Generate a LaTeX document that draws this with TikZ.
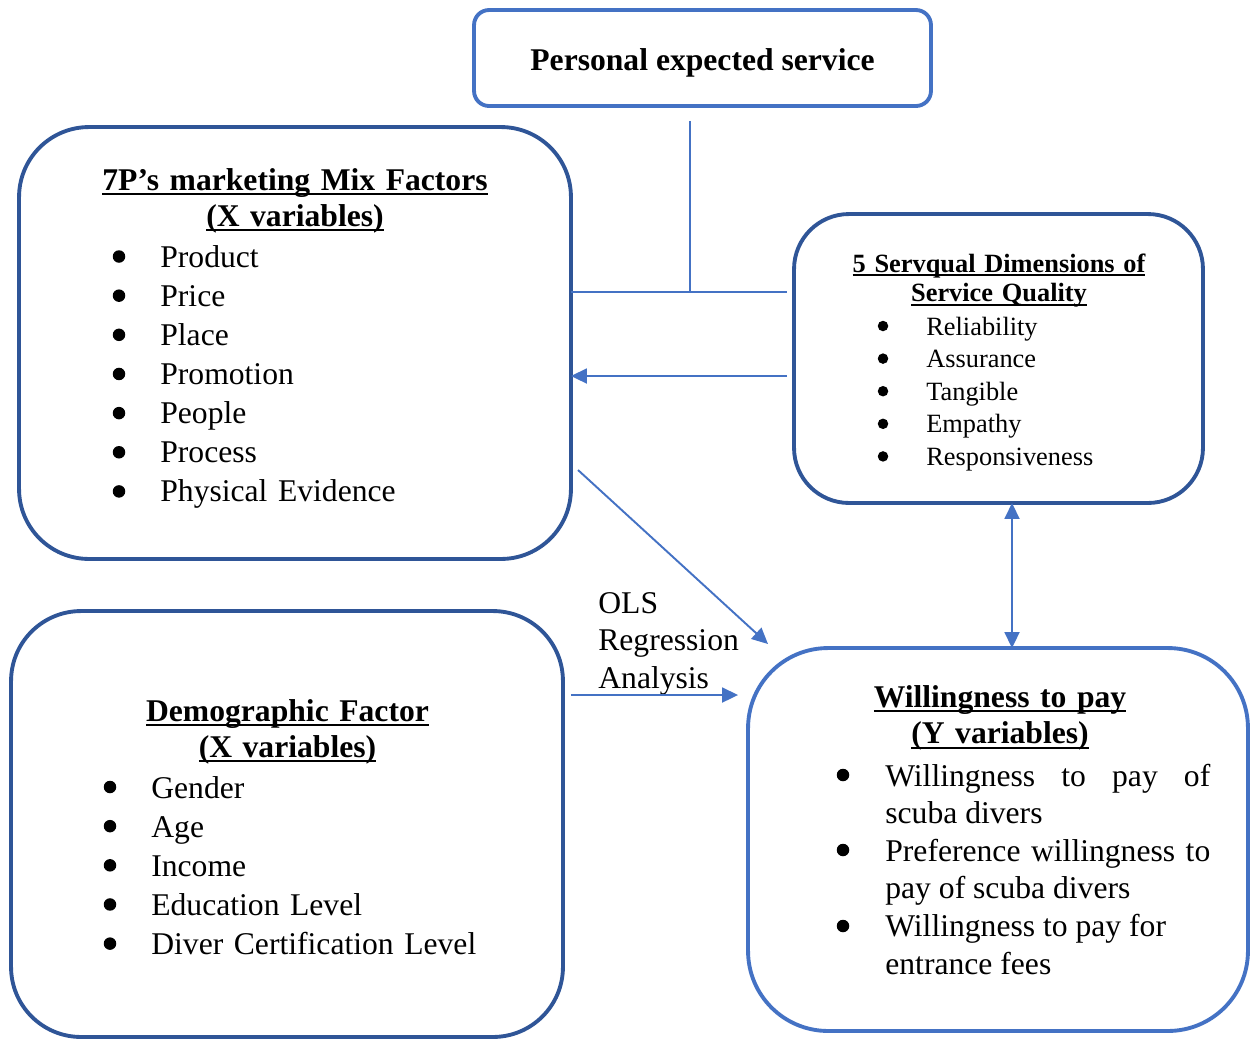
\documentclass[tikz,border=0pt]{standalone}
\usepackage{fontspec}
\setmainfont{Liberation Serif}
\usetikzlibrary{positioning, arrows.meta}
\definecolor{darkblue}{HTML}{2F5597}
\definecolor{lightblue}{HTML}{4472C4}
\newlength{\uldepth}\setlength{\uldepth}{3pt}
\newlength{\ulthick}\setlength{\ulthick}{1.3pt}
% underlined heading line
\newcommand{\undl}[1]{\leavevmode\setbox0=\hbox{#1}\rlap{\rule[-\uldepth]{\wd0}{\ulthick}}\box0}
\newcommand{\bigfont}{\fontsize{18}{22.2}\selectfont}
\newcommand{\headfont}{\fontsize{18}{20.6}\selectfont\bfseries}
\newcommand{\smallfont}{\fontsize{15}{18.5}\selectfont}
\tikzset{
x=0.02cm, y=-0.02cm, % one unit is one pixel of the layout, y going down
darkbox/.style={draw=darkblue, line width=2.2pt, rounded corners=#1, inner sep=0pt, outer sep=0pt}, % factor boxes
lightbox/.style={draw=lightblue, line width=2.2pt, rounded corners=#1, inner sep=0pt, outer sep=0pt}, % expectation and outcome boxes
title/.style={anchor=base, align=center, inner sep=0pt, text width=10cm, font=\headfont}, % underlined headings
items/.style={anchor=base west, align=left, inner sep=0pt, font=\bigfont}, % bullet lists
link/.style={draw=lightblue, line width=1.1pt}, % plain connector
arrow/.style={link, -{Triangle[length=0.32cm, width=0.3cm]}}, % one-way connector
both/.style={link, {Triangle[length=0.32cm, width=0.3cm]}-{Triangle[length=0.32cm, width=0.3cm]}}, % two-way connector
}
\begin{document}
\begin{tikzpicture}
\useasboundingbox (0,0) rectangle (1250,1039);

% boxes
\node[lightbox=0.3cm, minimum width=9.14cm, minimum height=1.92cm, text height=0.5cm, text depth=0cm, font=\bigfont\bfseries] (pes) at (702.5,58) {Personal expected service};
\node[darkbox=1.4cm, minimum width=11.04cm, minimum height=8.64cm] (mix) at (295,343) {};
\node[darkbox=1.1cm, minimum width=8.18cm, minimum height=5.78cm] (servq) at (998.5,358.5) {};
\node[darkbox=1.4cm, minimum width=11.04cm, minimum height=8.52cm] (demo) at (287,824) {};
\node[lightbox=1.6cm, minimum width=10cm, minimum height=7.66cm] (wtp) at (998,839.5) {};

% 7P's box
\node[title] (mixtitle) at (295,190) {\undl{7P’s marketing Mix Factors}\\\undl{(X variables)}};
\node[items, text width=8cm] (mixlist) at (160,267.5) {Product\\Price\\Place\\Promotion\\People\\Process\\Physical Evidence};
\foreach \n in {0,...,6}
  \fill (119,256.5+39.15*\n) circle (0.125cm);

% servqual box
\node[title, font=\fontsize{15}{17}\selectfont\bfseries\setlength{\uldepth}{2.5pt}\setlength{\ulthick}{1.1pt}] (sqtitle) at (999,272) {\undl{5 Servqual Dimensions of}\\\undl{Service Quality}};
\node[items, text width=6cm, font=\smallfont] (sqlist) at (926,335) {Reliability\\Assurance\\Tangible\\Empathy\\Responsiveness};
\foreach \n in {0,...,4}
  \fill (883,326+32.6*\n) circle (0.105cm);

% demographic box
\node[title] (demotitle) at (287.5,721) {\undl{Demographic Factor}\\\undl{(X variables)}};
\node[items, text width=8.5cm] (demolist) at (151,798) {Gender\\Age\\Income\\Education Level\\Diver Certification Level};
\foreach \n in {0,...,4}
  \fill (110,787+39.15*\n) circle (0.125cm);

% willingness box
\node[title, font=\fontsize{18}{21}\selectfont\bfseries] (wtptitle) at (1000,707) {\undl{Willingness to pay}\\\undl{(Y variables)}};
\node[items, text width=6.5cm, align=justify, font=\fontsize{18}{21.4}\selectfont] (wtplist) at (885,786) {Willingness to pay of\linebreak scuba divers\\Preference willingness to\linebreak pay of scuba divers\\Willingness to pay for\\entrance fees};
\foreach \y in {775,850,926}
  \fill (843,\y) circle (0.125cm);

% method label
\node[anchor=base west, align=left, inner sep=0pt, font=\fontsize{18}{21.1}\selectfont] (ols) at (598,688) {OLS\\Regression\\Analysis};

% connectors
\coordinate (tjoin) at (690,292);
\coordinate (fbrow) at (690,376);
\coordinate (olsfrom) at (578,470);
\coordinate (olsto) at (768,644);
\coordinate (dmrow) at (650,695);
\coordinate (wtpcol) at (1012,580);
\draw[link] ([yshift=-0.3cm]pes.south -| tjoin) -- (tjoin);
\draw[link, shorten >=0.14cm] (mix.east |- tjoin) -- (servq.west |- tjoin);
\draw[arrow, shorten <=0.14cm] (servq.west |- fbrow) -- (mix.east |- fbrow);
\draw[arrow] (olsfrom) -- (olsto);
\draw[arrow, shorten <=0.16cm, shorten >=0.2cm] (demo.east |- dmrow) -- (wtp.west |- dmrow);
\draw[both] (servq.south -| wtpcol) -- (wtp.north -| wtpcol);
\end{tikzpicture}
\end{document}
